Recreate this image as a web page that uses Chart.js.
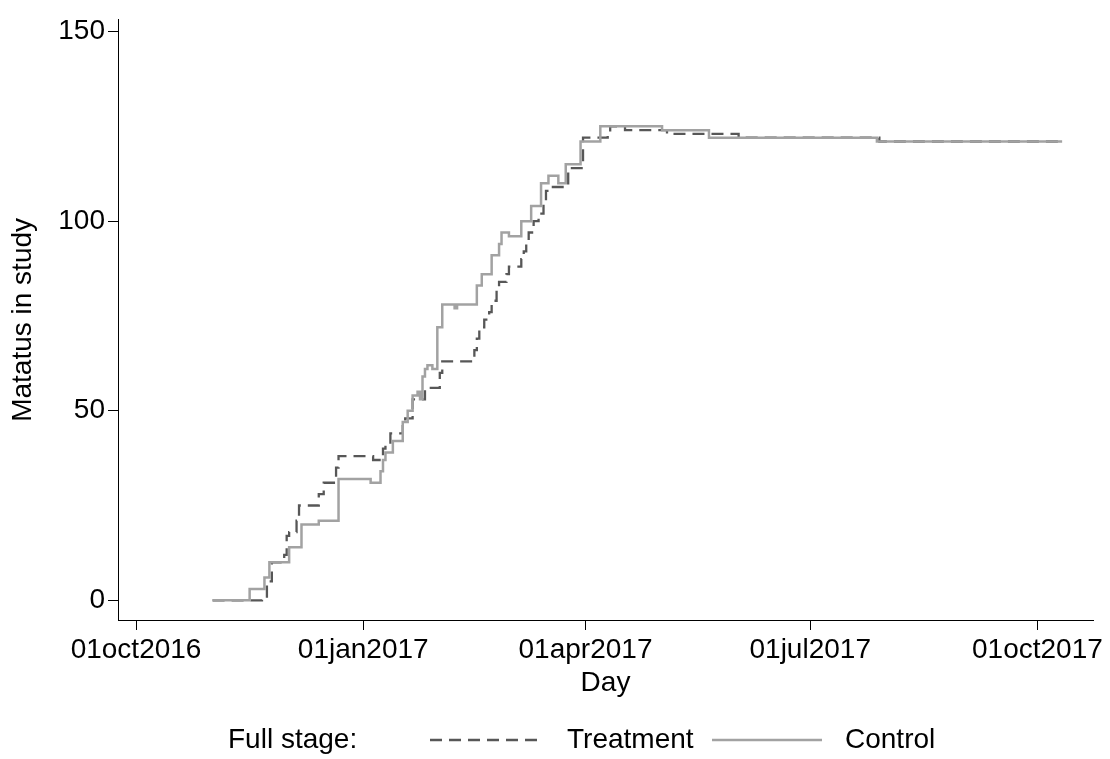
<!DOCTYPE html>
<html>
<head>
<meta charset="utf-8">
<script src="https://cdn.jsdelivr.net/npm/chart.js@4.4.1/dist/chart.umd.min.js"></script>
<style>
  html, body { margin: 0; padding: 0; background: #fff; }
  #wrap { width: 1110px; height: 759px; }
</style>
</head>
<body>
<div id="wrap"><canvas id="chart" width="1110" height="759"></canvas></div>
<script>
// Matatus in study by day, full stage
const treatmentDates = [
  '2016-11-01', '2016-11-21', '2016-11-23', '2016-11-25', '2016-11-30', '2016-12-01',
  '2016-12-02', '2016-12-05', '2016-12-06', '2016-12-14', '2016-12-16', '2016-12-21',
  '2016-12-22', '2017-01-05', '2017-01-09', '2017-01-10', '2017-01-12', '2017-01-17',
  '2017-01-18', '2017-01-21', '2017-01-26', '2017-02-01', '2017-02-02', '2017-02-15',
  '2017-02-16', '2017-02-17', '2017-02-19', '2017-02-21', '2017-02-22', '2017-02-24',
  '2017-02-25', '2017-02-28', '2017-03-01', '2017-03-06', '2017-03-07', '2017-03-08',
  '2017-03-09', '2017-03-11', '2017-03-13', '2017-03-15', '2017-03-16', '2017-03-18',
  '2017-03-25', '2017-03-31', '2017-04-10', '2017-04-11', '2017-04-17', '2017-05-04',
  '2017-06-02', '2017-07-29', '2017-10-11'
];
const treatmentValues = [
  0, 1, 5, 10, 12, 17,
  18, 21, 25, 28, 31, 35,
  38, 37, 40, 41, 44, 47,
  48, 53, 56, 60, 63, 66,
  69, 72, 74, 76, 79, 82,
  84, 86, 88, 90, 92, 95,
  97, 100, 102, 105, 108, 109,
  114, 122, 123, 125, 124, 123,
  122, 121, 121
];

const controlDates = [
  '2016-11-01', '2016-11-16', '2016-11-22', '2016-11-24', '2016-12-02', '2016-12-07',
  '2016-12-14', '2016-12-22', '2017-01-04', '2017-01-08', '2017-01-09', '2017-01-10',
  '2017-01-13', '2017-01-17', '2017-01-19', '2017-01-21', '2017-01-23', '2017-01-24',
  '2017-01-25', '2017-01-26', '2017-01-27', '2017-01-29', '2017-01-31', '2017-02-02',
  '2017-02-07', '2017-02-08', '2017-02-16', '2017-02-18', '2017-02-22', '2017-02-25',
  '2017-02-26', '2017-03-01', '2017-03-06', '2017-03-10', '2017-03-14', '2017-03-17',
  '2017-03-21', '2017-03-24', '2017-03-30', '2017-04-07', '2017-05-02', '2017-05-21',
  '2017-07-28', '2017-10-11'
];
const controlValues = [
  0, 3, 6, 10, 14, 20,
  21, 32, 31, 34, 37, 39,
  42, 47, 50, 54, 55, 53,
  59, 61, 62, 61, 72, 78,
  77, 78, 83, 86, 91, 94,
  97, 96, 100, 104, 110, 112,
  110, 115, 121, 125, 124, 122,
  121, 121
];

const tickDates = ['2016-10-01', '2017-01-01', '2017-04-01', '2017-07-01', '2017-10-01'];
const tickLabels = ['01oct2016', '01jan2017', '01apr2017', '01jul2017', '01oct2017'];
const yTicks = [0, 50, 100, 150];

const FAMILY = '"Liberation Sans", Helvetica, Arial, sans-serif';
const FONT_SIZE = 28;
const TREAT_COLOR = '#575757';
const CONTROL_COLOR = '#a2a2a2';
const DASH = [12, 7];

// days since 01oct2016
const origin = Date.parse('2016-10-01');
const toDay = s => (Date.parse(s) - origin) / 864e5;

const toPoints = (dates, values) => dates.map((d, i) => ({ x: toDay(d), y: values[i] }));
const tickDays = tickDates.map(toDay);

// legend drawn by hand: "Full stage:" prefix sits inline with the keys
const stageLegend = {
  id: 'stageLegend',
  afterDraw(chart) {
    const ctx = chart.ctx;
    const y = 740;
    ctx.save();
    ctx.font = FONT_SIZE + 'px ' + FAMILY;
    ctx.fillStyle = '#000';
    ctx.textBaseline = 'middle';
    ctx.textAlign = 'left';
    ctx.fillText('Full stage:', 228, y);

    ctx.lineWidth = 2.3;
    ctx.strokeStyle = TREAT_COLOR;
    ctx.setLineDash(DASH);
    ctx.beginPath();
    ctx.moveTo(430, y);
    ctx.lineTo(542, y);
    ctx.stroke();
    ctx.fillText('Treatment', 567, y);

    ctx.strokeStyle = CONTROL_COLOR;
    ctx.setLineDash([]);
    ctx.beginPath();
    ctx.moveTo(712, y);
    ctx.lineTo(822, y);
    ctx.stroke();
    ctx.fillText('Control', 845, y);
    ctx.restore();
  }
};

const axisGrid = {
  drawOnChartArea: false,
  drawTicks: true,
  tickLength: 10,
  tickColor: '#000',
  tickWidth: 1
};

new Chart(document.getElementById('chart'), {
  type: 'line',
  data: {
    datasets: [
      {
        label: 'Treatment',
        data: toPoints(treatmentDates, treatmentValues),
        borderColor: TREAT_COLOR,
        borderWidth: 2.3,
        borderDash: DASH,
        stepped: true,
        pointRadius: 0,
        fill: false,
        order: 1
      },
      {
        label: 'Control',
        data: toPoints(controlDates, controlValues),
        borderColor: CONTROL_COLOR,
        borderWidth: 2.5,
        stepped: true,
        pointRadius: 0,
        fill: false,
        order: 0
      }
    ]
  },
  options: {
    responsive: false,
    devicePixelRatio: 1,
    animation: false,
    layout: { padding: { left: 0, right: 17, top: 15, bottom: 0 } },
    plugins: {
      legend: { display: false },
      tooltip: { enabled: false }
    },
    scales: {
      x: {
        type: 'linear',
        min: -7.3,
        max: 387.5,
        grid: axisGrid,
        border: { display: true, color: '#000', width: 1 },
        afterBuildTicks: scale => { scale.ticks = tickDays.map(v => ({ value: v })); },
        afterFit: scale => { scale.height = 139; },
        ticks: {
          autoSkip: false,
          maxRotation: 0,
          padding: 3,
          color: '#000',
          font: { family: FAMILY, size: FONT_SIZE },
          callback: (val) => tickLabels[tickDays.indexOf(val)]
        },
        title: {
          display: true,
          text: 'Day',
          color: '#000',
          font: { family: FAMILY, size: FONT_SIZE },
          padding: { top: 0, bottom: 59 }
        }
      },
      y: {
        min: -5.2,
        max: 153.1,
        grid: axisGrid,
        border: { display: true, color: '#000', width: 1 },
        afterBuildTicks: scale => { scale.ticks = yTicks.map(v => ({ value: v })); },
        afterFit: scale => { scale.width = 118; },
        ticks: {
          padding: 3,
          color: '#000',
          font: { family: FAMILY, size: FONT_SIZE }
        },
        title: {
          display: true,
          text: 'Matatus in study',
          color: '#000',
          font: { family: FAMILY, size: FONT_SIZE },
          padding: { top: 6, bottom: 0 }
        }
      }
    }
  },
  plugins: [stageLegend]
});
</script>
</body>
</html>
